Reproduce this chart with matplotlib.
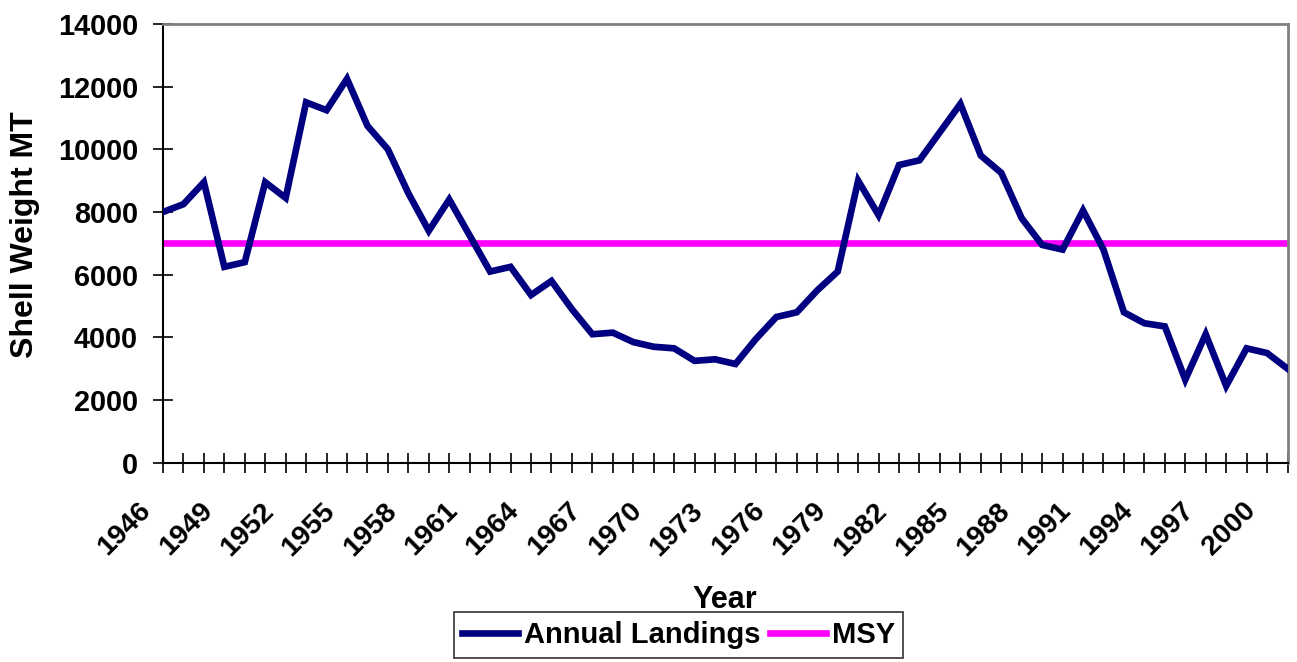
import matplotlib
matplotlib.use("Agg")
import matplotlib.pyplot as plt
from matplotlib.lines import Line2D
import matplotlib.transforms as mtransforms

years = list(range(1946, 2002))
landings = [8000, 8250, 8950, 6250, 6400, 8950, 8450, 11500, 11250, 12250,
            10750, 10000, 8600, 7400, 8400, 7250, 6100, 6250, 5350, 5800,
            4900, 4100, 4150, 3850, 3700, 3650, 3250, 3300, 3150, 3950,
            4650, 4800, 5500, 6100, 9000, 7900, 9500, 9650, 10550, 11450,
            9800, 9250, 7800, 6950, 6800, 8050, 6800, 4800, 4450, 4350,
            2650, 4100, 2450, 3650, 3500, 3000]
msy = 7000
y_ticks = [0, 2000, 4000, 6000, 8000, 10000, 12000, 14000]
label_years = list(range(1946, 2001, 3))

plt.rcParams['font.family'] = ['Liberation Sans', 'DejaVu Sans']
plt.rcParams['font.weight'] = 'bold'

fig = plt.figure(figsize=(12.97, 6.62), dpi=100)
ax = fig.add_axes([163/1297, 1-462.7/662, (1287.5-163)/1297, (462.7-24)/662])

ax.plot(years, landings, color='#000080', lw=4.8, solid_joinstyle='miter', zorder=3)
ax.plot([years[0], years[-1]], [msy, msy], color='#FF00FF', lw=4.8, zorder=2)

ax.set_xlim(years[0], years[-1])
ax.set_ylim(0, 14000)

ax.set_yticks(y_ticks)
ax.set_yticklabels([str(v) for v in y_ticks], fontsize=20.8, fontweight='bold')
ax.set_xticks(years)
ax.set_xticklabels([])

offset = mtransforms.ScaledTranslation(-25/100, -35/100, fig.dpi_scale_trans)
for yr in label_years:
    ax.text(yr, 0, str(yr), transform=ax.get_xaxis_transform() + offset,
            rotation=45, rotation_mode='anchor', ha='right', va='top',
            fontsize=20.5, fontweight='bold', clip_on=False)

ax.tick_params(axis='both', direction='inout', length=14, width=1.2, color='black')
ax.tick_params(axis='y', pad=11)

for s in ['left', 'bottom']:
    ax.spines[s].set_color('black')
    ax.spines[s].set_linewidth(1.5)
for s in ['top', 'right']:
    ax.spines[s].set_color('#808080')
    ax.spines[s].set_linewidth(2)

fig.text(725/1297, 1-600/662, 'Year', ha='center', va='center', fontsize=22, fontweight='bold')
fig.text(25/1297, 1-235/662, 'Shell Weight MT', ha='center', va='center', rotation=90,
         fontsize=23, fontweight='bold')

handles = [Line2D([], [], color='#000080', lw=4.8),
           Line2D([], [], color='#FF00FF', lw=4.8)]
leg = fig.legend(handles, ['Annual Landings', 'MSY'], loc='upper center',
                 bbox_to_anchor=(678.5/1297, 1-612/662), ncol=2, frameon=True,
                 fancybox=False, prop={'size': 21, 'weight': 'bold'},
                 handlelength=1.9, handletextpad=0.2, columnspacing=0.35,
                 borderpad=0.3, borderaxespad=0)
leg.get_frame().set_edgecolor('black')
leg.get_frame().set_linewidth(1.2)

fig.savefig('out.png', dpi=100)
